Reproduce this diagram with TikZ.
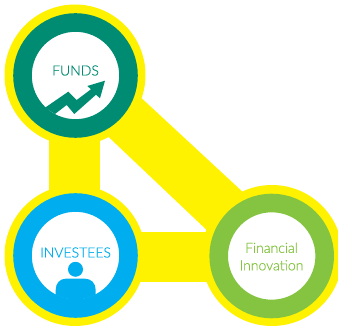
\documentclass[tikz,border=0pt]{standalone}
\usepackage{fontspec}
\setmainfont{Lato}[UprightFont=* Light,FakeBold=0.4]
\definecolor{yel}{HTML}{FFF200}
\definecolor{grn}{HTML}{008C72}
\definecolor{blu}{HTML}{00AEEF}
\definecolor{lim}{HTML}{85C441}
\tikzset{x=1pt,y=-1pt,
 halo/.style={circle,fill=yel,minimum size=141pt,inner sep=0pt},
 ring/.style={circle,fill=white,draw=#1,line width=18.6pt,minimum size=106pt,inner sep=0pt,outer sep=0pt},
 lbl/.style={text=#1,font=\fontsize{14}{17.5}\selectfont,align=center,inner sep=0pt}}
\begin{document}
\begin{tikzpicture}
\useasboundingbox (0,0) rectangle (338,326);
\fill[yel] (49,75) rectangle (100,255);
\fill[yel] (75,232) rectangle (272,282.3);
\fill[yel] (141.7,98.3) -- (241.7,191) -- (272,256) -- (206,232) -- (206,229.3) -- (108.3,136.7) -- (75,100) -- cycle;
\node[halo] (fh) at (75,75) {};
\node[halo] (ih) at (75,255.5) {};
\node[halo] (nh) at (272,255.5) {};
\node[ring=grn] (f) at (75.5,75.5) {};
\node[ring=blu] (i) at (75.5,255.5) {};
\node[ring=lim] (n) at (271.7,256) {};
\begin{scope}
\clip (75.5,75.5) circle (44pt);
\fill[grn] (45,107.7) -- (68.3,91.7) -- (76.7,100) -- (91,89.3) -- (87.3,86) -- (105,80.7) -- (100,98.3) -- (96,94.7) -- (74.3,114) -- (66.7,105) -- (55,114) -- cycle;
\end{scope}
\begin{scope}
\clip (75.5,255.5) circle (44pt);
\fill[blu] (75.5,269.3) circle (7.5pt);
\fill[blu] (55.7,300) -- (55.7,290) .. controls (55.7,283) and (60,278.7) .. (66,278.7) -- (85,278.7) .. controls (91,278.7) and (95.7,283) .. (95.7,290) -- (95.7,300) -- cycle;
\end{scope}
\node[lbl=grn] (t1) at (75.5,70.5) {FUNDS};
\node[lbl=blu] (t2) at (75.5,252.5) {INVESTEES};
\node[lbl=lim] (t3) at (271.5,256.5) {Financial\\Innovation};
\end{tikzpicture}
\end{document}
